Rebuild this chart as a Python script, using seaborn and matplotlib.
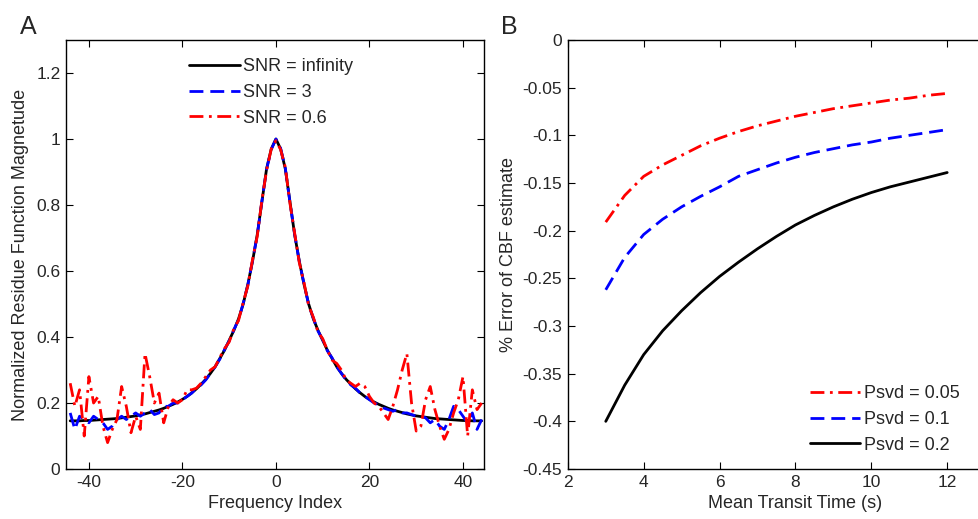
import numpy as np
import pandas as pd
import seaborn as sns
import matplotlib
matplotlib.use('Agg')
import matplotlib.pyplot as plt

# Panel A - residue function magnitude vs frequency index
freq_index = list(range(-44, 45))

snr_inf = [0.146, 0.146, 0.146, 0.147, 0.147, 0.148, 0.149, 0.15, 0.151, 0.152, 0.153,
           0.155, 0.157, 0.159, 0.161, 0.164, 0.167, 0.171, 0.175, 0.179, 0.184, 0.19,
           0.196, 0.203, 0.211, 0.22, 0.231, 0.243, 0.257, 0.272, 0.29, 0.31, 0.335,
           0.36, 0.39, 0.42, 0.455, 0.50, 0.56, 0.63, 0.71, 0.81, 0.91, 0.97,
           1.00,
           0.97, 0.91, 0.81, 0.71, 0.63, 0.56, 0.50, 0.455, 0.42, 0.39, 0.36, 0.335,
           0.31, 0.29, 0.272, 0.257, 0.243, 0.231, 0.22, 0.211, 0.203, 0.196, 0.19,
           0.184, 0.179, 0.175, 0.171, 0.167, 0.164, 0.161, 0.159, 0.157, 0.155, 0.153,
           0.152, 0.151, 0.15, 0.149, 0.148, 0.147, 0.147, 0.146, 0.146, 0.146]

snr_3 = [0.17, 0.12, 0.16, 0.15, 0.14, 0.16, 0.15, 0.14, 0.12, 0.13, 0.15, 0.16, 0.15,
         0.16, 0.17, 0.16, 0.17, 0.18, 0.165, 0.17, 0.19, 0.19, 0.20, 0.20, 0.21, 0.22,
         0.23, 0.245, 0.255, 0.27, 0.29, 0.31,
         0.333, 0.362, 0.388, 0.422, 0.452, 0.502, 0.558, 0.632, 0.708, 0.812, 0.908,
         0.968, 1.0, 0.972, 0.912, 0.808, 0.712, 0.628, 0.562, 0.498, 0.457, 0.418,
         0.392, 0.358, 0.337,
         0.31, 0.29, 0.27, 0.255, 0.245, 0.23, 0.22, 0.21, 0.20, 0.195, 0.185, 0.18,
         0.175, 0.18, 0.17, 0.17, 0.165, 0.16, 0.16, 0.155, 0.14, 0.15, 0.13, 0.12,
         0.15, 0.19, 0.18, 0.16, 0.14, 0.17, 0.12, 0.15]

snr_06 = [0.26, 0.19, 0.24, 0.10, 0.28, 0.20, 0.22, 0.13, 0.08, 0.12, 0.15, 0.25, 0.19,
          0.11, 0.16, 0.12, 0.35, 0.28, 0.20, 0.23, 0.14, 0.19, 0.21, 0.20, 0.21, 0.24,
          0.24, 0.245, 0.26, 0.28, 0.30, 0.31,
          0.338, 0.365, 0.385, 0.425, 0.45, 0.505, 0.555, 0.635, 0.705, 0.815, 0.905,
          0.97, 0.995, 0.968, 0.915, 0.805, 0.715, 0.625, 0.565, 0.495, 0.46, 0.415,
          0.395, 0.36, 0.33,
          0.32, 0.30, 0.27, 0.26, 0.25, 0.26, 0.25, 0.22, 0.20, 0.19, 0.17, 0.15, 0.19,
          0.24, 0.30, 0.35, 0.20, 0.115, 0.13, 0.21, 0.25, 0.18, 0.13, 0.09, 0.12, 0.17,
          0.21, 0.28, 0.10, 0.24, 0.18, 0.20]

# Panel B - CBF error vs mean transit time
mtt = [3, 3.5, 4, 4.5, 5, 5.5, 6, 6.5, 7, 7.5, 8, 8.5, 9, 9.5, 10, 10.5, 11, 11.5, 12]
psvd_005 = [-0.191, -0.163, -0.143, -0.131, -0.121, -0.111, -0.103, -0.096, -0.090, -0.085,
            -0.080, -0.076, -0.072, -0.069, -0.066, -0.063, -0.061, -0.058, -0.056]
psvd_01 = [-0.262, -0.228, -0.204, -0.188, -0.175, -0.164, -0.154, -0.143, -0.136, -0.129,
           -0.123, -0.118, -0.114, -0.110, -0.107, -0.103, -0.100, -0.097, -0.094]
psvd_02 = [-0.400, -0.362, -0.330, -0.305, -0.284, -0.265, -0.248, -0.233, -0.219, -0.206,
           -0.194, -0.184, -0.175, -0.167, -0.160, -0.154, -0.149, -0.144, -0.139]

a_xticks = [-40, -20, 0, 20, 40]
a_yticks = [0, 0.2, 0.4, 0.6, 0.8, 1, 1.2]
a_yticklabels = ['0', '0.2', '0.4', '0.6', '0.8', '1', '1.2']
b_xticks = [2, 4, 6, 8, 10, 12]
b_yticks = [0, -0.05, -0.1, -0.15, -0.2, -0.25, -0.3, -0.35, -0.4, -0.45]
b_yticklabels = ['0', '-0.05', '-0.1', '-0.15', '-0.2', '-0.25', '-0.3', '-0.35', '-0.4', '-0.45']

sns.set_theme(style='ticks')
plt.rcParams['font.family'] = ['Liberation Sans', 'DejaVu Sans']
plt.rcParams['axes.unicode_minus'] = False
plt.rcParams['xtick.direction'] = 'in'
plt.rcParams['ytick.direction'] = 'in'

dash = (0, (5, 2.5))
dashdot = (0, (5, 2, 1, 2))

fig = plt.figure(figsize=(9.79, 5.19), dpi=100)
ax1 = fig.add_axes([0.0674, 0.0963, 0.427, 0.8266])
ax2 = fig.add_axes([0.580, 0.0963, 0.465, 0.8266])

# Panel A
sns.lineplot(x=freq_index, y=snr_inf, ax=ax1, color='black', lw=2, label='SNR = infinity')
sns.lineplot(x=freq_index, y=snr_3, ax=ax1, color='blue', lw=2, linestyle=dash, label='SNR = 3')
sns.lineplot(x=freq_index, y=snr_06, ax=ax1, color='red', lw=2, linestyle=dashdot, label='SNR = 0.6')
ax1.set_xlim(-44.9, 44.5)
ax1.set_ylim(0, 1.3)
ax1.set_xticks(a_xticks)
ax1.set_yticks(a_yticks)
ax1.set_yticklabels(a_yticklabels)
ax1.set_xlabel('Frequency Index', fontsize=13)
ax1.set_ylabel('Normalized Residue Function Magnetude', fontsize=13, labelpad=5)
ax1.legend(loc='upper left', bbox_to_anchor=(0.184, 0.905), bbox_transform=fig.transFigure,
           frameon=False, fontsize=13, handlelength=2.8, handletextpad=0.2,
           labelspacing=0.48, borderpad=0)

# Panel B
sns.lineplot(x=mtt, y=psvd_005, ax=ax2, color='red', lw=2, linestyle=dashdot, label='Psvd = 0.05')
sns.lineplot(x=mtt, y=psvd_01, ax=ax2, color='blue', lw=2, linestyle=dash, label='Psvd = 0.1')
sns.lineplot(x=mtt, y=psvd_02, ax=ax2, color='black', lw=2, label='Psvd = 0.2')
ax2.set_xlim(2, 14)
ax2.set_ylim(-0.45, 0)
ax2.set_xticks(b_xticks)
ax2.set_yticks(b_yticks)
ax2.set_yticklabels(b_yticklabels)
ax2.set_xlabel('Mean Transit Time (s)', fontsize=13)
ax2.set_ylabel('% Error of CBF estimate', fontsize=13, labelpad=4)
ax2.legend(loc='upper left', bbox_to_anchor=(0.818, 0.275), bbox_transform=fig.transFigure,
           frameon=False, fontsize=13, handlelength=2.8, handletextpad=0.2,
           labelspacing=0.48, borderpad=0)

for ax in (ax1, ax2):
    ax.tick_params(axis='both', which='both', top=True, right=True, length=5, width=0.8,
                   labelsize=12.5, color='black', pad=4)
    for s in ax.spines.values():
        s.set_visible(True)
        s.set_color('black')
        s.set_linewidth(1)

fig.text(0.020, 0.935, 'A', fontsize=18)
fig.text(0.512, 0.935, 'B', fontsize=18)

fig.savefig('out.png', dpi=100)
